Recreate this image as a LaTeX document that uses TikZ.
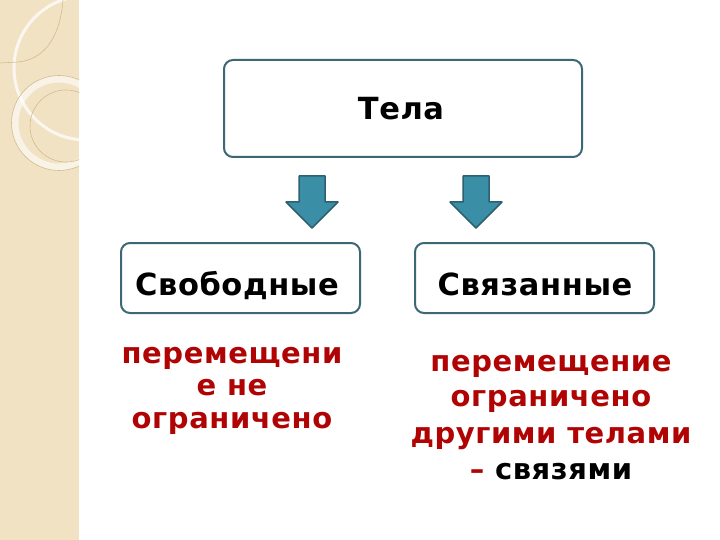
\documentclass[tikz,border=0pt]{standalone}
\usepackage{fontspec}
\setmainfont{DejaVu Sans}[LetterSpace=2]
\newfontfamily\lblfont{DejaVu Sans}[LetterSpace=2]
\definecolor{strip}{HTML}{F1E2C4}
\definecolor{stripline}{HTML}{D2BC8E}
\definecolor{boxline}{HTML}{3C6875}
\definecolor{arrfill}{HTML}{3A8FA6}
\definecolor{arrline}{HTML}{2D6070}
\definecolor{darkred}{HTML}{B00404}
\tikzset{
  catbox/.style={draw=boxline, line width=2pt, rounded corners=9pt, fill=white},
  downarrow/.style={fill=arrfill, draw=arrline, line width=1.5pt, line join=round},
  lbl/.style={font=\lblfont\bfseries\fontsize{30.5}{36}\selectfont, text=black, anchor=base, inner sep=0pt},
  note/.style={font=\bfseries\fontsize{29}{34}\selectfont, text=darkred, anchor=base, inner sep=0pt}
}
\begin{document}
\begin{tikzpicture}[x=1pt,y=-1pt]
\useasboundingbox (0,0) rectangle (720,540);
% left decorative strip
\fill[strip] (0,0) rectangle (79,540);
\begin{scope}
\clip (0,0) rectangle (79,540);
\draw[white, line width=3pt, opacity=0.75] (86,68) circle (72);
\draw[stripline, line width=0.6pt] (63,0) .. controls (60,40) and (42,60) .. (18,62) -- (0,63);
\draw[white, line width=7pt, opacity=0.6] (59,123) circle (44);
\draw[stripline, line width=0.6pt] (59,123) circle (47.5);
\draw[stripline, line width=0.6pt] (66,126) circle (36);
\end{scope}
% boxes
\draw[catbox] (224,60) rectangle (582,157);
\node[lbl] (tela) at (401,120) {Тела};
\draw[catbox] (121,243) rectangle (360,313);
\node[lbl] (svob) at (237,295) {Свободные};
\draw[catbox] (415,243) rectangle (654,313);
\node[lbl] (svyaz) at (535,295) {Связанные};
% arrows
\draw[downarrow] (299,176) -- (325,176) -- (325,202) -- (338,202) -- (312,228) -- (286,202) -- (299,202) -- cycle;
\draw[downarrow] (463,176) -- (489,176) -- (489,202) -- (502,202) -- (476,228) -- (450,202) -- (463,202) -- cycle;
% notes
\node[note] (n1a) at (232,363) {перемещени};
\node[note] (n1b) at (232,395.5) {е не};
\node[note] (n1c) at (232,428) {ограничено};
\node[note] (n2a) at (551,371) {перемещение};
\node[note] (n2b) at (551,406.5) {ограничено};
\node[note] (n2c) at (551,443) {другими телами};
\node[note] (n2d) at (551,479) {– \textcolor{black}{связями}};
\end{tikzpicture}
\end{document}
